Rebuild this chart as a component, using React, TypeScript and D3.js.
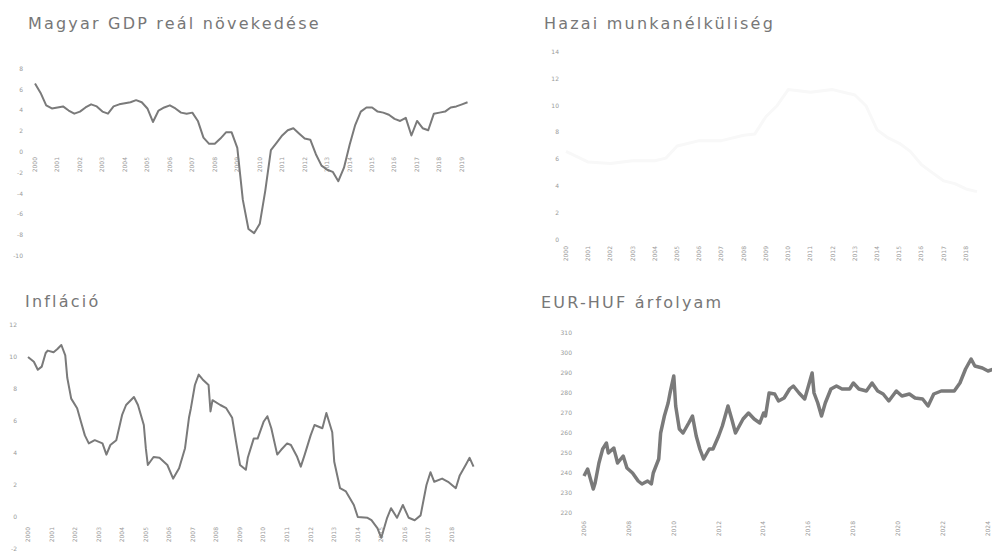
import React from "react";
import * as d3 from "d3";

// ---------- DATA ----------
// Real GDP growth, quarterly, starting 2000 Q1 (%)
const gdpStart = "2000-01";
const gdpValues = [
  6.6, 5.7, 4.5, 4.2, 4.3, 4.4, 4.0, 3.7, 3.9, 4.3, 4.6, 4.4, 3.9, 3.7, 4.4, 4.6,
  4.7, 4.8, 5.0, 4.8, 4.2, 2.9, 4.0, 4.3, 4.5, 4.2, 3.8, 3.7, 3.8, 3.0, 1.4, 0.8,
  0.8, 1.3, 1.9, 1.9, 0.4, -4.6, -7.4, -7.8, -6.9, -3.7, 0.2, 0.9, 1.6, 2.1, 2.3, 1.8,
  1.3, 1.2, -0.2, -1.3, -1.7, -1.9, -2.8, -1.5, 0.7, 2.6, 3.9, 4.3, 4.3, 3.9, 3.8, 3.6,
  3.2, 3.0, 3.3, 1.6, 3.0, 2.3, 2.1, 3.7, 3.8, 3.9, 4.3, 4.4, 4.6, 4.8,
];
const gdpYearLabels = d3.range(2000, 2020).map(String);
const gdpTicks = [8, 6, 4, 2, 0, -2, -4, -6, -8, -10];

// Unemployment rate (%)
const unemployment: [string, number][] = [
  ["2000-01", 6.6], ["2001-01", 5.8], ["2002-01", 5.7], ["2003-01", 5.9], ["2004-01", 5.9],
  ["2004-07", 6.1], ["2005-01", 7.0], ["2006-01", 7.4], ["2007-01", 7.4], ["2008-01", 7.8],
  ["2008-07", 7.9], ["2009-01", 9.2], ["2009-07", 10.0], ["2010-01", 11.2], ["2011-01", 11.0],
  ["2012-01", 11.2], ["2013-01", 10.8], ["2013-07", 10.0], ["2014-01", 8.2], ["2014-07", 7.6],
  ["2015-01", 7.2], ["2015-07", 6.6], ["2016-01", 5.6], ["2016-07", 5.0], ["2017-01", 4.4],
  ["2017-07", 4.2], ["2018-01", 3.8], ["2018-07", 3.6],
];
const unempYearLabels = d3.range(2000, 2019).map(String);
const unempTicks = [14, 12, 10, 8, 6, 4, 2, 0];

// Inflation (%)
const inflation: [string, number][] = [
  ["2000-01", 10.0], ["2000-04", 9.7], ["2000-06", 9.2], ["2000-08", 9.4], ["2000-10", 10.25],
  ["2000-11", 10.4], ["2001-02", 10.3], ["2001-04", 10.5], ["2001-06", 10.75], ["2001-08", 10.1],
  ["2001-09", 8.7], ["2001-11", 7.4], ["2002-02", 6.8], ["2002-04", 5.95], ["2002-06", 5.1],
  ["2002-08", 4.6], ["2002-11", 4.8], ["2003-03", 4.6], ["2003-05", 3.9], ["2003-07", 4.5],
  ["2003-10", 4.8], ["2004-01", 6.4], ["2004-03", 7.0], ["2004-07", 7.5], ["2004-09", 7.0],
  ["2004-12", 5.75], ["2005-01", 4.3], ["2005-02", 3.25], ["2005-05", 3.75], ["2005-08", 3.7],
  ["2005-12", 3.25], ["2006-03", 2.4], ["2006-06", 3.05], ["2006-09", 4.3], ["2006-11", 6.2],
  ["2006-12", 6.8], ["2007-02", 8.25], ["2007-04", 8.9], ["2007-06", 8.6], ["2007-09", 8.25],
  ["2007-10", 6.6], ["2007-11", 7.3], ["2008-03", 7.0], ["2008-06", 6.8], ["2008-09", 6.2],
  ["2008-11", 4.7], ["2009-01", 3.25], ["2009-04", 2.95], ["2009-05", 3.7], ["2009-08", 4.9],
  ["2009-10", 4.9], ["2010-01", 5.95], ["2010-03", 6.3], ["2010-05", 5.55], ["2010-08", 3.9],
  ["2010-10", 4.2], ["2011-01", 4.6], ["2011-03", 4.5], ["2011-06", 3.8], ["2011-08", 3.15],
  ["2011-10", 3.9], ["2012-01", 5.1], ["2012-03", 5.75], ["2012-07", 5.55], ["2012-09", 6.5],
  ["2012-12", 5.3], ["2013-01", 3.45], ["2013-04", 1.8], ["2013-07", 1.6], ["2013-11", 0.75],
  ["2014-01", 0.0], ["2014-06", -0.05], ["2014-08", -0.2], ["2014-11", -0.7], ["2015-01", -1.3],
  ["2015-04", -0.05], ["2015-06", 0.55], ["2015-09", -0.05], ["2015-12", 0.75], ["2016-03", -0.05],
  ["2016-06", -0.2], ["2016-09", 0.1], ["2016-12", 2.0], ["2017-02", 2.8], ["2017-04", 2.2],
  ["2017-08", 2.4], ["2017-11", 2.2], ["2018-03", 1.8], ["2018-05", 2.6], ["2018-08", 3.25],
  ["2018-10", 3.7], ["2018-12", 3.15],
];
const inflYearLabels = d3.range(2000, 2019).map(String);
const inflTicks = [12, 10, 8, 6, 4, 2, 0, -2];

// EUR-HUF exchange rate
const eurhuf: [string, number][] = [
  ["2006-01", 238.5], ["2006-03", 242], ["2006-06", 232], ["2006-07", 235], ["2006-09", 245],
  ["2006-11", 252], ["2007-01", 255], ["2007-02", 250], ["2007-05", 252.5], ["2007-07", 245],
  ["2007-10", 248.5], ["2007-12", 242.5], ["2008-03", 240], ["2008-06", 236], ["2008-08", 234.5],
  ["2008-11", 236], ["2009-01", 234.5], ["2009-02", 240], ["2009-05", 247], ["2009-06", 260],
  ["2009-08", 268.5], ["2009-10", 275], ["2009-11", 280], ["2010-01", 288.5], ["2010-02", 273.5],
  ["2010-04", 262], ["2010-06", 260], ["2010-09", 265], ["2010-11", 268.5], ["2011-01", 258.5],
  ["2011-03", 252], ["2011-05", 247], ["2011-08", 252], ["2011-10", 252], ["2012-01", 258.5],
  ["2012-03", 263.5], ["2012-06", 273.5], ["2012-08", 267], ["2012-10", 260], ["2013-02", 267],
  ["2013-05", 270], ["2013-08", 267], ["2013-11", 265], ["2014-01", 270], ["2014-02", 268.5],
  ["2014-04", 280], ["2014-07", 279.5], ["2014-09", 276], ["2014-12", 277.5], ["2015-03", 282],
  ["2015-05", 283.5], ["2015-08", 280], ["2015-11", 277], ["2016-01", 283.5], ["2016-03", 290],
  ["2016-04", 280], ["2016-06", 275], ["2016-08", 268.5], ["2016-10", 275], ["2017-01", 282],
  ["2017-04", 283.5], ["2017-07", 282], ["2017-11", 282], ["2018-01", 285], ["2018-04", 282],
  ["2018-08", 281], ["2018-11", 285], ["2019-02", 281], ["2019-05", 279.5], ["2019-08", 276],
  ["2019-12", 281], ["2020-03", 278.5], ["2020-07", 279.5], ["2020-10", 277.5], ["2021-02", 277],
  ["2021-05", 273.5], ["2021-08", 279.5], ["2021-12", 281], ["2022-03", 281], ["2022-07", 281],
  ["2022-10", 285], ["2023-01", 292], ["2023-04", 297], ["2023-06", 293.5], ["2023-10", 292.5],
  ["2024-01", 291], ["2024-04", 292],
];
const fxYearLabels = d3.range(2006, 2025, 2).map(String);
const fxTicks = [310, 300, 290, 280, 270, 260, 250, 240, 230, 220];

// ---------- RENDER ----------
const parseM = d3.timeParse("%Y-%m")!;
const yearDate = (y: string) => new Date(+y, 0, 1);

type Pt = { date: Date; value: number };

interface PanelProps {
  title: string;
  titleX: number;
  titleY: number;
  data: Pt[];
  xDomain: [Date, Date];
  xRange: [number, number];
  yDomain: [number, number];
  yRange: [number, number];
  yTicks: number[];
  yLabelX: number;
  xLabels: string[];
  xLabelY: number;
  lineColor: string;
  lineWidth: number;
}

function Panel(p: PanelProps) {
  const x = d3.scaleTime().domain(p.xDomain).range(p.xRange);
  const y = d3.scaleLinear().domain(p.yDomain).range(p.yRange);
  const line = d3
    .line<Pt>()
    .x((d) => x(d.date))
    .y((d) => y(d.value));
  return (
    <g>
      <text
        x={p.titleX}
        y={p.titleY}
        fontFamily="DejaVu Sans, sans-serif"
        fontSize={16}
        letterSpacing={2.2}
        fill="#777"
      >
        {p.title}
      </text>
      {p.yTicks.map((t) => (
        <text
          key={t}
          x={p.yLabelX}
          y={y(t)}
          dy="0.32em"
          textAnchor="end"
          fontFamily="DejaVu Sans, sans-serif"
          fontSize={6}
          fill="#9a9a9a"
        >
          {t}
        </text>
      ))}
      {p.xLabels.map((l) => (
        <text
          key={l}
          transform={`translate(${x(yearDate(l))},${p.xLabelY}) rotate(-90)`}
          dy="0.32em"
          textAnchor="end"
          fontFamily="DejaVu Sans, sans-serif"
          fontSize={6}
          fill="#9a9a9a"
        >
          {l}
        </text>
      ))}
      <path
        d={line(p.data) || ""}
        fill="none"
        stroke={p.lineColor}
        strokeWidth={p.lineWidth}
        strokeLinejoin="round"
      />
    </g>
  );
}

export default function App() {
  const gdp0 = parseM(gdpStart)!;
  const gdpData: Pt[] = gdpValues.map((v, i) => ({
    date: d3.timeMonth.offset(gdp0, 3 * i),
    value: v,
  }));
  const toPts = (arr: [string, number][]): Pt[] =>
    arr.map(([d, v]) => ({ date: parseM(d)!, value: v }));

  return (
    <svg
      width={992}
      height={553}
      style={{ position: "absolute", left: 0, top: 0, background: "#fff" }}
    >
      <Panel
        title="Magyar GDP reál növekedése"
        titleX={28}
        titleY={29}
        data={gdpData}
        xDomain={[yearDate("2000"), yearDate("2019")]}
        xRange={[35, 462]}
        yDomain={[8, -10]}
        yRange={[69, 256]}
        yTicks={gdpTicks}
        yLabelX={23}
        xLabels={gdpYearLabels}
        xLabelY={157}
        lineColor="#7a7a7a"
        lineWidth={2}
      />
      <Panel
        title="Hazai munkanélküliség"
        titleX={544}
        titleY={29}
        data={toPts(unemployment)}
        xDomain={[yearDate("2000"), yearDate("2018")]}
        xRange={[566, 966]}
        yDomain={[14, 0]}
        yRange={[52, 240]}
        yTicks={unempTicks}
        yLabelX={559}
        xLabels={unempYearLabels}
        xLabelY={246}
        lineColor="#f8f8f8"
        lineWidth={3}
      />
      <Panel
        title="Infláció"
        titleX={25}
        titleY={307}
        data={toPts(inflation)}
        xDomain={[yearDate("2000"), yearDate("2018")]}
        xRange={[28, 452]}
        yDomain={[12, -2]}
        yRange={[325, 549]}
        yTicks={inflTicks}
        yLabelX={17}
        xLabels={inflYearLabels}
        xLabelY={527}
        lineColor="#7a7a7a"
        lineWidth={2}
      />
      <Panel
        title="EUR-HUF árfolyam"
        titleX={541}
        titleY={308}
        data={toPts(eurhuf)}
        xDomain={[yearDate("2006"), yearDate("2024")]}
        xRange={[584, 988]}
        yDomain={[310, 220]}
        yRange={[333, 513]}
        yTicks={fxTicks}
        yLabelX={572}
        xLabels={fxYearLabels}
        xLabelY={521}
        lineColor="#7a7a7a"
        lineWidth={3.5}
      />
    </svg>
  );
}
